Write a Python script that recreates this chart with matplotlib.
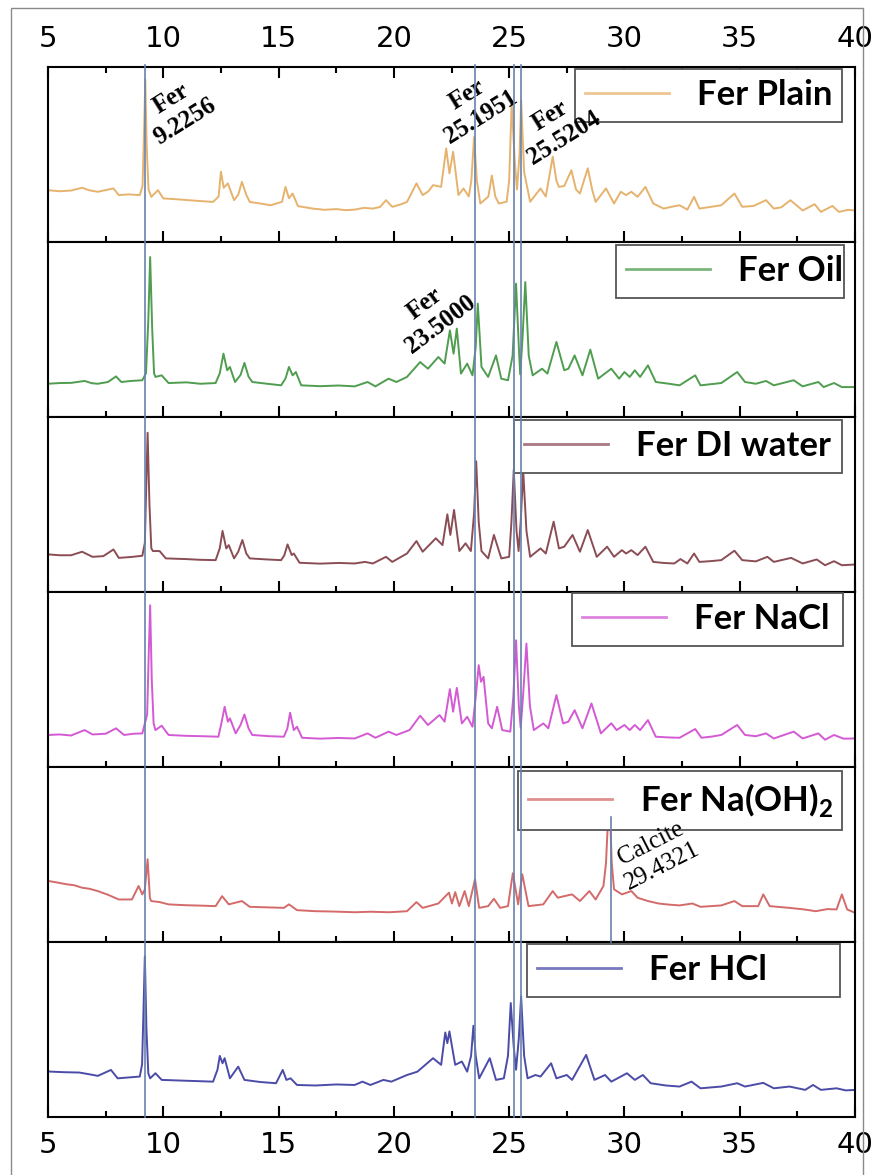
import matplotlib
matplotlib.use("Agg")
import matplotlib.pyplot as plt
from matplotlib.lines import Line2D
from matplotlib.patches import Rectangle
import matplotlib.transforms as mtransforms

plt.rcParams['mathtext.fontset'] = 'custom'
plt.rcParams['mathtext.rm'] = 'Lato'
plt.rcParams['mathtext.bf'] = 'Lato:bold'

# (2theta, relative intensity)
fer_plain = [(5.00, 29.6), (5.50, 29.0), (6.00, 29.4), (6.48, 31.0), (6.80, 29.5), (7.16, 28.7), (7.84, 30.6),
             (8.07, 26.8), (8.50, 27.2), (8.98, 26.8), (9.10, 32), (9.16, 60), (9.22, 93), (9.28, 55), (9.36, 30),
             (9.48, 25.8), (9.77, 29.6), (10.00, 24.9), (10.50, 24.5), (11.00, 24.0), (11.60, 23.4), (12.16, 22.9),
             (12.40, 26), (12.50, 40.2), (12.62, 31), (12.80, 33.5), (13.07, 23.9), (13.25, 27), (13.41, 34.4),
             (13.60, 27), (13.75, 22.9), (14.20, 22.0), (14.66, 21.0), (15.15, 23), (15.30, 31.5), (15.45, 25),
             (15.61, 27.7), (15.84, 20.5), (16.48, 19.1), (17.0, 18.4), (17.5, 18.8), (17.9, 18.2), (18.30, 18.5),
             (18.70, 19.5), (19.09, 19.1), (19.40, 20.0), (19.66, 23.9), (19.93, 20.1), (20.30, 21.5), (20.57, 22.9),
             (20.98, 33.5), (21.25, 26.8), (21.50, 29.0), (21.70, 32.5), (22.05, 31.5), (22.27, 53.5), (22.41, 39.2),
             (22.57, 51.6), (22.80, 26.8), (23.02, 30.6), (23.25, 26), (23.36, 35), (23.48, 60), (23.60, 35),
             (23.75, 22), (24.10, 26), (24.25, 38), (24.40, 26), (24.55, 22), (24.89, 23), (25.00, 35), (25.11, 79),
             (25.25, 45), (25.34, 30), (25.45, 50), (25.52, 81), (25.65, 40), (25.91, 23), (26.36, 30.6),
             (26.59, 26), (26.89, 48.8), (27.05, 35), (27.16, 31.5), (27.39, 32), (27.70, 41), (27.90, 30),
             (28.07, 27.7), (28.41, 42.1), (28.60, 30), (28.75, 22.9), (29.20, 30.6), (29.55, 22), (29.84, 28.7),
             (30.07, 26.8), (30.30, 28.7), (30.57, 25.8), (30.91, 31.5), (31.25, 22), (31.70, 19.1), (32.00, 20.0),
             (32.39, 21), (32.73, 18.5), (33.02, 25.8), (33.25, 19.1), (33.70, 20.0), (34.20, 21), (34.77, 27.7),
             (35.11, 20.1), (35.60, 20.6), (36.14, 23.9), (36.48, 19.1), (36.80, 19.8), (37.20, 23.9), (37.73, 18.0),
             (38.25, 21.6), (38.52, 17.2), (39.02, 20.6), (39.30, 17.2), (39.70, 18.4), (40.00, 18.0)]

fer_oil = [(5.00, 19.0), (5.50, 19.4), (6.00, 19.5), (6.59, 20.6), (6.90, 19.3), (7.16, 19.0), (7.60, 20.0),
           (7.95, 23.2), (8.18, 20.0), (8.60, 20.6), (9.09, 21.0), (9.25, 25), (9.35, 55), (9.43, 91.4), (9.52, 50),
           (9.60, 25), (9.66, 22.9), (9.93, 23.8), (10.23, 19.4), (11.00, 19.8), (11.60, 19.0), (12.27, 19.4),
           (12.45, 25), (12.61, 36.2), (12.77, 26.7), (12.89, 28.6), (13.11, 20.0), (13.35, 24), (13.52, 30.9),
           (13.70, 23), (13.86, 20.0), (14.50, 19.0), (15.11, 18.1), (15.30, 22), (15.45, 28.6), (15.61, 23.8),
           (15.75, 25.7), (15.98, 18.1), (16.80, 17.6), (17.60, 18.0), (18.30, 17.5), (18.86, 20.0), (19.20, 17.5),
           (19.77, 21.9), (20.11, 20.0), (20.57, 22.9), (21.14, 31.4), (21.48, 27.6), (21.93, 34.3), (22.20, 30.5),
           (22.43, 49.5), (22.59, 36.2), (22.73, 50.5), (22.91, 24.8), (23.18, 30.5), (23.41, 23.8), (23.55, 40),
           (23.64, 64.8), (23.75, 40), (23.80, 28.6), (24.09, 22.9), (24.43, 35.2), (24.66, 21.9), (24.95, 21.0),
           (25.15, 35), (25.30, 76.2), (25.42, 40), (25.48, 24.4), (25.58, 45), (25.70, 77.1), (25.85, 35),
           (26.02, 23.8), (26.43, 27.6), (26.66, 24.8), (27.05, 42.9), (27.39, 26.7), (27.57, 27.6), (27.84, 35.2),
           (28.18, 23.8), (28.52, 38.5), (28.86, 21.9), (29.43, 27.6), (29.77, 21.9), (30.00, 25.7), (30.23, 22.9),
           (30.45, 26.7), (30.68, 22.9), (31.02, 29.5), (31.36, 20.0), (31.93, 19.0), (32.39, 18.1), (33.07, 23.8),
           (33.30, 18.1), (34.20, 19.4), (34.89, 25.7), (35.23, 20.0), (35.70, 19.0), (36.14, 20.6), (36.48, 18.1),
           (37.34, 21.0), (37.73, 17.5), (38.41, 20.0), (38.64, 17.1), (39.09, 19.4), (39.43, 17.1), (40.00, 17.1)]

fer_di = [(5.00, 21.5), (5.50, 21.0), (6.00, 21.0), (6.48, 23.0), (6.93, 20.1), (7.40, 20.5), (7.84, 24.3),
          (8.07, 19.5), (8.60, 20.0), (9.09, 20.7), (9.20, 28), (9.26, 60), (9.32, 91.0), (9.40, 50), (9.48, 25),
          (9.55, 23.4), (9.84, 23.4), (10.11, 19.2), (11.00, 18.8), (11.60, 18.4), (12.27, 18.2), (12.45, 25),
          (12.57, 34.9), (12.73, 24.9), (12.84, 26.8), (13.07, 19.2), (13.25, 23), (13.43, 29.7), (13.60, 22),
          (13.75, 19.2), (14.50, 18.6), (15.11, 18.2), (15.25, 21), (15.39, 27.2), (15.57, 21.1), (15.66, 22.0),
          (15.91, 16.7), (16.80, 16.2), (17.60, 16.6), (18.30, 16.3), (18.75, 17.2), (19.09, 16.3), (19.66, 20.1),
          (19.93, 17.2), (20.57, 22.0), (20.98, 29.1), (21.25, 23.0), (21.82, 30.7), (22.11, 26.8), (22.32, 44.4),
          (22.45, 32.6), (22.61, 46.9), (22.84, 23.4), (23.11, 27.8), (23.34, 23.4), (23.48, 45), (23.57, 74.7),
          (23.68, 40), (23.80, 23.4), (24.09, 19.2), (24.34, 32.6), (24.66, 19.2), (25.00, 20.1), (25.10, 40),
          (25.20, 69.9), (25.32, 35), (25.41, 23.4), (25.50, 40), (25.61, 69.0), (25.75, 35), (25.91, 20.1),
          (26.36, 24.9), (26.59, 22.0), (26.93, 40.2), (27.16, 24.9), (27.39, 25.9), (27.75, 32.6), (28.07, 23.0),
          (28.41, 35.4), (28.80, 20.1), (29.25, 25.9), (29.55, 20.1), (29.89, 23.9), (30.07, 22.0), (30.30, 23.9),
          (30.57, 21.1), (30.91, 25.9), (31.25, 17.2), (31.70, 16.6), (32.16, 16.3), (32.43, 18.8), (32.73, 16.3),
          (33.02, 22.0), (33.25, 17.2), (33.70, 17.6), (34.20, 18.2), (34.77, 23.6), (35.11, 18.2), (35.70, 17.5),
          (36.20, 20.1), (36.48, 17.2), (37.23, 19.5), (37.73, 16.3), (38.34, 18.6), (38.70, 15.3), (39.09, 17.6),
          (39.43, 15.3), (40.00, 15.7)]

fer_nacl = [(5.00, 18.3), (5.50, 18.6), (6.00, 18.0), (6.59, 21.1), (6.93, 18.6), (7.50, 19.0), (7.95, 22.1),
            (8.30, 18.3), (8.70, 19.0), (9.09, 19.2), (9.30, 30), (9.37, 65), (9.43, 92.4), (9.50, 50), (9.58, 25),
            (9.66, 21.1), (9.93, 23.6), (10.23, 18.3), (11.00, 17.8), (11.70, 17.6), (12.39, 17.3), (12.52, 25),
            (12.66, 34.4), (12.80, 25.9), (12.89, 27.8), (13.14, 19.2), (13.35, 24), (13.52, 30.0), (13.70, 22),
            (13.86, 18.3), (14.60, 17.6), (15.23, 17.3), (15.38, 22), (15.50, 31.0), (15.66, 21.1), (15.80, 23.0),
            (16.02, 16.7), (16.80, 16.2), (17.60, 16.6), (18.30, 16.3), (18.86, 19.2), (19.20, 16.7), (19.77, 20.2),
            (20.11, 18.3), (20.68, 21.1), (21.14, 29.3), (21.48, 24.0), (21.98, 29.7), (22.20, 25.9), (22.43, 44.5),
            (22.57, 31.6), (22.73, 45.2), (22.95, 24.9), (23.18, 28.7), (23.41, 23.0), (23.55, 40), (23.68, 58.2),
            (23.78, 48.7), (23.89, 51.5), (24.09, 24.9), (24.25, 22.1), (24.48, 34.4), (24.70, 21.1), (25.05, 20.2),
            (25.18, 40), (25.30, 72.4), (25.42, 35), (25.50, 22.4), (25.60, 40), (25.75, 70.5), (25.90, 35),
            (26.07, 21.1), (26.48, 24.9), (26.70, 22.1), (27.05, 41.1), (27.34, 24.9), (27.57, 25.9), (27.84, 32.5),
            (28.18, 22.1), (28.57, 36.3), (28.98, 19.2), (29.43, 25.0), (29.66, 21.1), (30.00, 24.0), (30.23, 21.1),
            (30.45, 24.0), (30.68, 21.1), (31.02, 26.8), (31.36, 17.3), (31.90, 16.9), (32.39, 16.7), (33.07, 21.7),
            (33.34, 16.7), (33.80, 17.4), (34.20, 18.3), (34.89, 24.0), (35.23, 18.3), (35.70, 17.6), (36.14, 19.2),
            (36.48, 16.3), (37.34, 20.2), (37.73, 16.3), (38.41, 19.2), (38.70, 15.6), (39.09, 18.3), (39.50, 16.2),
            (40.00, 16.3)]

fer_naoh = [(5.00, 34.9), (5.40, 34.0), (5.80, 33.0), (6.15, 32.4), (6.48, 31.0), (6.80, 30.4), (7.16, 29.1),
            (7.60, 27.0), (8.07, 24.3), (8.64, 24.3), (8.93, 32.0), (9.09, 27.2), (9.20, 30), (9.32, 47.3),
            (9.42, 25), (9.48, 23.4), (9.84, 22.8), (10.23, 21.5), (11.00, 21.0), (11.60, 20.8), (12.27, 20.5),
            (12.55, 26.2), (12.84, 21.5), (13.41, 23.4), (13.75, 20.1), (14.50, 19.8), (15.23, 19.5), (15.45, 21.5),
            (15.80, 18.2), (16.60, 17.6), (17.40, 17.4), (18.30, 17.0), (19.00, 17.3), (19.80, 17.0), (20.57, 17.6),
            (20.98, 22.8), (21.25, 19.5), (21.93, 22.0), (22.39, 28.2), (22.52, 22.0), (22.66, 28.5), (22.84, 20.5),
            (23.07, 29.1), (23.25, 20.5), (23.52, 35.8), (23.70, 19.5), (24.09, 20.5), (24.34, 24.7), (24.61, 19.5),
            (24.95, 20.5), (25.16, 39.3), (25.39, 21.5), (25.57, 38.7), (25.84, 20.5), (26.48, 21.5), (26.89, 29.1),
            (27.11, 25.3), (27.39, 26.2), (27.73, 27.2), (28.07, 23.4), (28.48, 29.1), (28.75, 24.3), (29.09, 32.0),
            (29.20, 45), (29.27, 65), (29.35, 82), (29.45, 45), (29.55, 30.1), (29.89, 27.2), (30.30, 29.1),
            (30.57, 25.3), (31.02, 23.4), (31.48, 22.0), (31.90, 21.4), (32.39, 20.9), (32.95, 22.0), (33.30, 20.1),
            (34.20, 20.9), (34.77, 23.4), (35.11, 20.5), (35.80, 20.5), (36.02, 27.2), (36.30, 20.5), (37.16, 19.5),
            (37.80, 18.6), (38.30, 17.6), (38.80, 18.8), (39.20, 18.6), (39.43, 27.2), (39.66, 18.6), (40.00, 16.7)]

fer_hcl = [(5.00, 26.0), (5.70, 25.6), (6.36, 25.4), (6.80, 24.4), (7.16, 23.5), (7.73, 26.9), (8.02, 22.1),
           (8.50, 22.6), (8.98, 23.1), (9.08, 30), (9.14, 60), (9.20, 91.8), (9.27, 50), (9.35, 25), (9.43, 22.1),
           (9.66, 25.0), (9.93, 21.2), (10.80, 20.8), (11.50, 20.5), (12.16, 20.2), (12.35, 27), (12.45, 34.9),
           (12.57, 30.7), (12.66, 33.6), (12.89, 22.1), (13.25, 28.8), (13.52, 21.2), (14.20, 20.0), (14.89, 19.3),
           (15.18, 26.9), (15.34, 21.2), (15.52, 22.1), (15.80, 18.3), (16.60, 18.0), (17.50, 18.6), (18.30, 18.3),
           (18.64, 20.2), (18.98, 18.3), (19.55, 21.2), (19.89, 20.2), (20.57, 24.0), (21.02, 25.9), (21.70, 33.6),
           (22.05, 29.8), (22.23, 48.3), (22.32, 42.2), (22.41, 48.9), (22.66, 29.8), (22.95, 31.7), (23.18, 25.9),
           (23.35, 35), (23.45, 52.1), (23.55, 35), (23.70, 22.1), (24.16, 33.6), (24.43, 21.2), (24.77, 22.1),
           (24.95, 35), (25.07, 65.1), (25.20, 40), (25.30, 27), (25.42, 45), (25.52, 68.9), (25.65, 35),
           (25.80, 22.1), (26.14, 24.0), (26.36, 23.1), (26.82, 30.7), (27.05, 22.1), (27.50, 24.0), (27.73, 21.2),
           (28.34, 35.5), (28.70, 21.2), (29.16, 24.0), (29.43, 20.2), (30.11, 25.0), (30.45, 21.2), (30.80, 24.0),
           (31.14, 19.3), (31.80, 18.0), (32.39, 17.4), (32.91, 20.2), (33.30, 16.4), (34.20, 17.4), (34.89, 19.3),
           (35.23, 17.4), (36.02, 19.5), (36.48, 16.4), (37.16, 17.4), (37.84, 15.5), (38.18, 18.3), (38.52, 15.5),
           (39.20, 16.4), (39.60, 15.2), (40.00, 15.5)]

series = [fer_plain, fer_oil, fer_di, fer_nacl, fer_naoh, fer_hcl]
labels = ['Fer Plain', 'Fer Oil', 'Fer DI water', 'Fer NaCl', r'Fer Na(OH)$_\mathbf{2}$', 'Fer HCl']
colors = ['#e6b36e', '#4f9d4f', '#8b4d55', '#d45ad4', '#d46a6a', '#4b4ba8']

fer_peaks = [9.2256, 23.5000, 25.1951, 25.5204]
calcite_peak = 29.4321

W, H = 875, 1175
fig = plt.figure(figsize=(W / 100, H / 100), dpi=100)

def fx(px):
    return px / W

def fy(py):
    return 1 - py / H

# outer frame
fig.add_artist(Rectangle((fx(11), fy(1200)), fx(852), (1200 - 8) / H, transform=fig.transFigure,
                         fill=False, edgecolor='#8a8a8a', lw=1.0))

left, right = 48, 855
top, ph = 67, 175
# legend boxes: left px, top px, width px
leg_pos = [(575, 69, 267), (616, 245, 228), (514, 420, 328), (572, 593, 271), (518, 771, 324), (527, 944, 313)]

axes = []
for k, (data, lab, col) in enumerate(zip(series, labels, colors)):
    ax = fig.add_axes([fx(left), fy(top + ph * (k + 1)), fx(right - left), ph / H])
    x = [p[0] for p in data]
    y = [p[1] for p in data]
    ax.plot(x, y, color=col, lw=1.4, label=lab, solid_joinstyle='round')
    ax.set_xlim(5, 40)
    ax.set_ylim(0, 100)
    ax.set_yticks([])
    ax.set_xticks(range(5, 41, 5))
    ax.set_xticks([7.5 + 5 * i for i in range(7)], minor=True)
    for s in ax.spines.values():
        s.set_linewidth(1.5)
    ax.tick_params(axis='x', which='both', direction='in', width=1.5, top=(k == 0),
                   labeltop=(k == 0), labelbottom=(k == 5), labelsize=21)
    ax.tick_params(axis='x', which='major', length=8, pad=10)
    ax.tick_params(axis='x', which='minor', length=4.5)
    lx, ly, lw_ = leg_pos[k]
    leg = ax.legend(loc='upper left', bbox_to_anchor=(fx(lx), fy(ly) - 0.05, fx(lw_), 0.05),
                    bbox_transform=fig.transFigure, mode='expand', borderaxespad=0,
                    prop={'family': 'Lato', 'weight': 'bold', 'size': 25},
                    handlelength=2.4, handletextpad=0.8, borderpad=0.3, fancybox=False,
                    framealpha=1, edgecolor='#555555')
    leg.get_frame().set_linewidth(1.3)
    for h in leg.get_lines():
        h.set_linewidth(2.0)
        h.set_alpha(0.75)
    axes.append(ax)

# reference lines across all panels
blend = mtransforms.blended_transform_factory(axes[0].transData, fig.transFigure)
for p in fer_peaks:
    fig.add_artist(Line2D([p, p], [fy(65), fy(1117)], transform=blend, color='#6782ad', lw=1.2, zorder=10))
fig.add_artist(Line2D([calcite_peak, calcite_peak], [fy(817), fy(942)], transform=blend,
                      color='#6782ad', lw=1.2, zorder=10))

# peak annotations
ann_font = dict(family='Liberation Serif', weight='bold', size=18, ha='center', va='center',
                multialignment='center')
fig.text(fx(178), fy(110), 'Fer\n9.2256', rotation=32, **ann_font)
fig.text(fx(474), fy(106), 'Fer\n25.1951', rotation=32, **ann_font)
fig.text(fx(557), fy(127), 'Fer\n25.5204', rotation=32, **ann_font)
fig.text(fx(433), fy(314), 'Fer\n23.5000', rotation=37, **ann_font)
fig.text(fx(657), fy(855), 'Calcite\n29.4321', rotation=27, family='Liberation Serif', size=18,
         ha='center', va='center', multialignment='center')

fig.savefig('out.png', dpi=100)
